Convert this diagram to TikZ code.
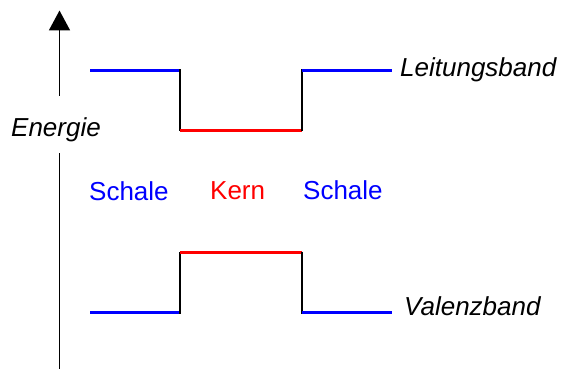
\documentclass[tikz,border=0pt]{standalone}
\usepackage{fontspec}
\setmainfont{Liberation Sans}
\usetikzlibrary{arrows.meta}
\definecolor{shellblue}{RGB}{0,0,255}
\definecolor{corered}{RGB}{255,0,0}
\tikzset{
  shell/.style={draw=shellblue, line width=3.4pt},
  core/.style={draw=corered, line width=3.4pt},
  wall/.style={draw=black, line width=2.6pt},
  axisline/.style={draw=black, line width=1.8pt, -{Triangle[width=21pt,length=20pt]}},
  lbl/.style={font=\fontsize{26}{30}\selectfont, inner sep=0pt, anchor=base west},
  bandlbl/.style={lbl, font=\fontsize{26}{30}\selectfont\itshape}
}
\begin{document}
\begin{tikzpicture}[x=1pt, y=-1pt]
  \useasboundingbox (0,0) rectangle (571,369);

  % energy axis, interrupted behind its label
  \coordinate (axbot) at (59.5,369);
  \coordinate (axtop) at (59.5,10.5);
  \draw[axisline] (axbot) -- (axtop);
  \fill[white] (8,96) rectangle (106,153);
  \node[bandlbl] (energie) at (11,136) {Energie};

  % conduction band: shell - core - shell
  \draw[shell] (90,70.7) -- (180,70.7);
  \draw[wall] (180,69.5) -- (180,131.5);
  \draw[core] (180,130.7) -- (302,130.7);
  \draw[wall] (302,131.5) -- (302,69.5);
  \draw[shell] (302,70.7) -- (392,70.7);

  % valence band: shell - core - shell
  \draw[shell] (90,312.7) -- (180,312.7);
  \draw[wall] (180,313.5) -- (180,251.5);
  \draw[core] (180,252.3) -- (302,252.3);
  \draw[wall] (302,251.5) -- (302,313.5);
  \draw[shell] (302,312.7) -- (392,312.7);

  % labels
  \node[bandlbl] (leit) at (400,77) {Leitungsband};
  \node[bandlbl] (valenz) at (404,315) {Valenzband};
  \node[lbl, text=shellblue] (schaleL) at (89,200) {Schale};
  \node[lbl, text=corered] (kern) at (210,199.5) {Kern};
  \node[lbl, text=shellblue] (schaleR) at (303,199) {Schale};
\end{tikzpicture}
\end{document}
